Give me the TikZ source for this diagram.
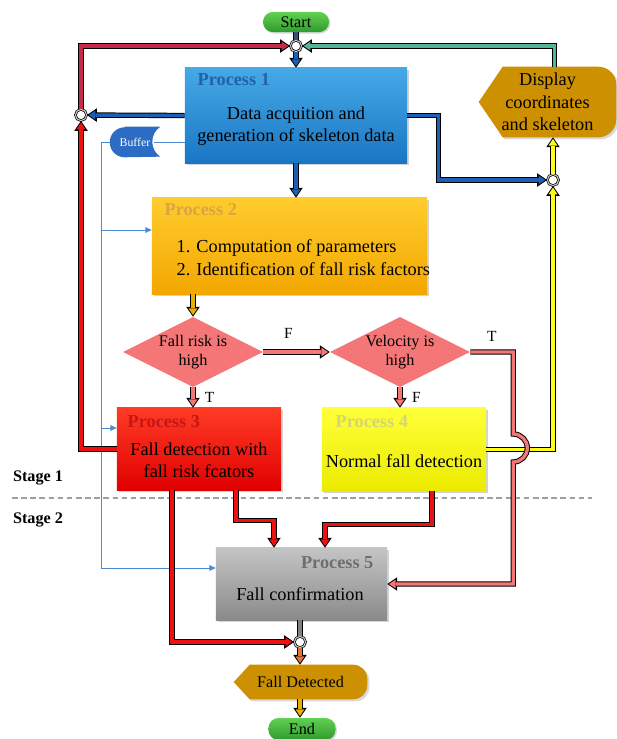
\documentclass[tikz,border=0pt]{standalone}
\usepackage{fontspec}
\setmainfont{Liberation Serif}
\usetikzlibrary{arrows.meta,shapes.geometric,shadows,calc,backgrounds}

\definecolor{procblueA}{HTML}{46A9E6}
\definecolor{procblueB}{HTML}{1976C4}
\definecolor{titleblue}{HTML}{2262AA}
\definecolor{arrowblue}{HTML}{1F5FB3}
\definecolor{procgoldA}{HTML}{FFCC2E}
\definecolor{procgoldB}{HTML}{F3A700}
\definecolor{titlegold}{HTML}{D8A444}
\definecolor{procredA}{HTML}{FF3B26}
\definecolor{procredB}{HTML}{E00000}
\definecolor{titlered}{HTML}{C81616}
\definecolor{procyelA}{HTML}{FFFF3A}
\definecolor{procyelB}{HTML}{EBEB00}
\definecolor{titleyel}{HTML}{D6D670}
\definecolor{procgrayA}{HTML}{C4C4C4}
\definecolor{procgrayB}{HTML}{8A8A8A}
\definecolor{titlegray}{HTML}{6E6E6E}
\definecolor{dispgold}{HTML}{CC9000}
\definecolor{decisionred}{HTML}{F47676}
\definecolor{termgreenA}{HTML}{62D052}
\definecolor{termgreenB}{HTML}{2E9B2E}
\definecolor{bufblue}{HTML}{2C6CC4}
\definecolor{sigblue}{HTML}{4D8AD2}
\definecolor{loopred}{HTML}{EE1111}
\definecolor{looppurple}{HTML}{C42C48}
\definecolor{loopteal}{HTML}{52B59A}
\definecolor{bandyellow}{HTML}{FFFF1A}
\definecolor{bandgold}{HTML}{E8AE00}
\definecolor{bandorange}{HTML}{E0743C}
\definecolor{bandgray}{HTML}{7F7F7F}
\definecolor{bandslate}{HTML}{33557A}

\tikzset{
  flow/.style={draw=#1, line width=2.4pt, shorten >=1.2pt,
    -{Triangle[length=4.8pt,width=6.4pt,line width=0pt,fill=#1]},
    preaction={draw=black, line width=3.8pt, shorten >=0pt,
      -{Triangle[length=7pt,width=9.6pt,line width=0pt,fill=black]}}},
  band/.style={draw=#1, line width=2.4pt, preaction={draw=black, line width=3.8pt}},
  sig/.style={draw=sigblue, line width=.6pt},
  proc/.style={rectangle, inner sep=0pt,
    drop shadow={opacity=.35, shadow xshift=1.5pt, shadow yshift=-1.5pt}},
  ptitle/.style={font=\fontsize{13}{15}\selectfont\bfseries, anchor=west},
  ptext/.style={font=\fontsize{13}{16}\selectfont, align=center},
  decision/.style={diamond, aspect=2, fill=decisionred, inner sep=0pt,
    minimum width=3.5cm, minimum height=1.75cm,
    font=\fontsize{11.5}{13}\selectfont, align=center},
  junction/.style={circle, draw=black, line width=.5pt, double=gray!45,
    double distance=.8pt, fill=white, inner sep=0pt, minimum size=.28cm},
  terminal/.style={rectangle, rounded corners=.25cm, top color=termgreenA,
    bottom color=termgreenB, minimum width=1.65cm, minimum height=.5cm,
    font=\fontsize{11.5}{13}\selectfont,
    drop shadow={opacity=.3, shadow xshift=1pt, shadow yshift=-1pt}},
  dispnode/.style={rectangle, inner sep=0pt, align=center},
  tf/.style={font=\fontsize{11}{13}\selectfont},
  stage/.style={font=\fontsize{11.5}{13}\selectfont\bfseries},
}

% display symbol: node, tip depth, corner radius
\newcommand\dispshape[3]{%
  \fill[dispgold, drop shadow={opacity=.3, shadow xshift=1.5pt, shadow yshift=-1.5pt}]
    (#1.west) -- ($(#1.north west)+(#2,0)$) -- ($(#1.north east)+(-#3,0)$)
    arc[start angle=-90,end angle=0,radius=#3] -- ($(#1.south east)+(0,-#3)$)
    arc[start angle=0,end angle=90,radius=#3] -- ($(#1.south west)+(#2,0)$) -- cycle;}

\begin{document}
\begin{tikzpicture}[x=0.025cm,y=-0.025cm]
\useasboundingbox (0,0) rectangle (617,739);

% stage 1
\node(start) at (296,22)[terminal] {Start};
\node(jtop) at (296,46)[junction] {};
\node(p1) at (296,115.5)[proc, top color=procblueA, bottom color=procblueB,
  minimum width=5.55cm, minimum height=2.375cm] {};
\node(p1t) at ($(p1.north west)+(8,12)$)[ptitle, text=titleblue] {Process 1};
\node(p1x) at ($(p1)+(0,10.5)$)[ptext] {Data acquition and\\generation of skeleton data};
\node(jleft) at (81,115)[junction] {};
\node(jright) at (553,180)[junction] {};
\node(buf) at (135,142)[dispnode, minimum width=1.25cm, minimum height=.75cm,
  font=\fontsize{8.4}{10}\selectfont, text=white] {Buffer};
\node(disp) at (547.5,102)[dispnode, minimum width=3.425cm, minimum height=1.75cm,
  font=\fontsize{13}{16}\selectfont] {Display\\coordinates\\and skeleton};

\node(p2) at (289.5,246)[proc, top color=procgoldA, bottom color=procgoldB,
  minimum width=6.875cm, minimum height=2.4cm] {};
\node(p2t) at ($(p2.north west)+(8,12)$)[ptitle, text=titlegold] {Process 2};
\node(p2x) at ($(p2.west)+(20,11.5)$)[ptext, align=left, anchor=west]
  {1. Computation of parameters\\2. Identification of fall risk factors};

\node(d1) at (193,352)[decision] {Fall risk is\\high};
\node(d2) at (400,352)[decision] {Velocity is\\high};

\node(p3) at (199,449)[proc, top color=procredA, bottom color=procredB,
  minimum width=4.1cm, minimum height=2.05cm] {};
\node(p3t) at ($(p3.north west)+(6,14)$)[ptitle, text=titlered] {Process 3};
\node(p3x) at ($(p3)+(0,11)$)[ptext] {Fall detection with\\fall risk fcators};
\node(p4) at (404,449.5)[proc, top color=procyelA, bottom color=procyelB,
  minimum width=4.1cm, minimum height=2.075cm] {};
\node(p4t) at ($(p4.north west)+(9,14)$)[ptitle, text=titleyel] {Process 4};
\node(p4x) at ($(p4)+(0,11.5)$)[ptext] {Normal fall detection};

\node(st1) at (38,478)[stage] {Stage 1};
\node(st2) at (38,520)[stage] {Stage 2};
\draw[gray!75, line width=1pt, dash pattern=on 4pt off 2.5pt] (12,498) -- (592,498);

% stage 2
\node(p5) at (301.5,584)[proc, top color=procgrayA, bottom color=procgrayB,
  minimum width=4.275cm, minimum height=1.8cm] {};
\node(p5t) at ($(p5.north east)+(-9,15)$)[ptitle, anchor=east, text=titlegray] {Process 5};
\node(p5x) at ($(p5)+(-1.5,10)$)[ptext] {Fall confirmation};
\node(jbot) at (300,642)[junction] {};
\node(fdet) at (300.5,682)[dispnode, minimum width=3.325cm, minimum height=.85cm,
  font=\fontsize{11.5}{13}\selectfont] {Fall Detected};
\node(end) at (302,729)[terminal, minimum width=1.675cm, minimum height=.55cm] {End};

\begin{scope}[on background layer]
\dispshape{disp}{24}{18}
\dispshape{fdet}{16}{14}
\fill[bufblue] ($(buf.north west)+(15,0)$) -- (buf.north east)
  arc[start angle=236.3,end angle=123.7,radius=18] -- ($(buf.south west)+(15,0)$)
  arc[start angle=90,end angle=270,radius=15] -- cycle;
\end{scope}

% buffer signal lines
\coordinate(bus) at (101,142);
\draw[sig] ($(buf.east)+(-6,0)$) -- (buf.east -| p1.west);
\draw[sig, -{Triangle[length=4.5pt,width=4pt]}] (buf.west) -- (bus) |- ($(p5.west)+(0,-16)$);
\draw[sig, -{Triangle[length=4.5pt,width=4pt]}] (bus |- p2.west) ++(0,-16) -- ($(p2.west)+(0,-16)$);
\draw[sig, -{Triangle[length=4.5pt,width=4pt]}] (bus |- p3.west) ++(0,-21) -- ($(p3.west)+(0,-21)$);

% main flow
\draw[band=bandslate] (start) -- (jtop);
\draw[flow=arrowblue] (jtop) -- (p1.north |- p1.north);
\draw[flow=arrowblue] (p1.west) -- (jleft);
\draw[flow=arrowblue] (p1.east) -- ++(31,0) |- (jright);
\draw[flow=arrowblue] (p1.south) -- (p1.south |- p2.north);
\draw[flow=bandgold] (d1.north |- p2.south) -- (d1.north);
\draw[flow=decisionred] (d1.east) -- (d2.west) node(lf1)[tf, pos=.38, above=5pt] {F};
\draw[flow=decisionred] (d1.south) -- (d1.south |- p3.north) node(lt1)[tf, midway, right=4pt] {T};
\draw[flow=decisionred] (d2.south) -- (d2.south |- p4.north) node(lf2)[tf, midway, right=4pt] {F};

% loops back to the top
\draw[flow=loopred] (p3.west) -| (jleft);
\draw[flow=looppurple] (jleft) |- (jtop);
\draw[flow=loopteal] ($(disp.north)+(7,0)$) |- (jtop);
\draw[flow=bandyellow] (p4.east) -| (jright);
\draw[flow=bandyellow] (jright) -- (jright |- disp.south);

% velocity high goes straight to confirmation
\draw[flow=decisionred] (d2.east) -- ++(43,0) node(lt2)[tf, midway, above=3pt] {T}
  -- ++(0,82) arc[start angle=-90,end angle=90,radius=14] |- (p5.east);

% into confirmation
\draw[flow=loopred] ($(p3.south)+(37,0)$) -- ++(0,30) -| ($(p5.north)+(-27.5,0)$);
\draw[flow=loopred] ($(p4.south)+(28,0)$) -- ++(0,33) -| ($(p5.north)+(23.5,0)$);
\draw[flow=loopred] ($(p3.south)+(-27,0)$) |- (jbot);
\draw[band=bandgray] (p5.south -| jbot) -- (jbot);
\draw[flow=bandorange] (jbot) -- (fdet.north -| jbot);
\draw[flow=bandgold] (fdet.south -| jbot) -- (end.north -| jbot);
\end{tikzpicture}
\end{document}
